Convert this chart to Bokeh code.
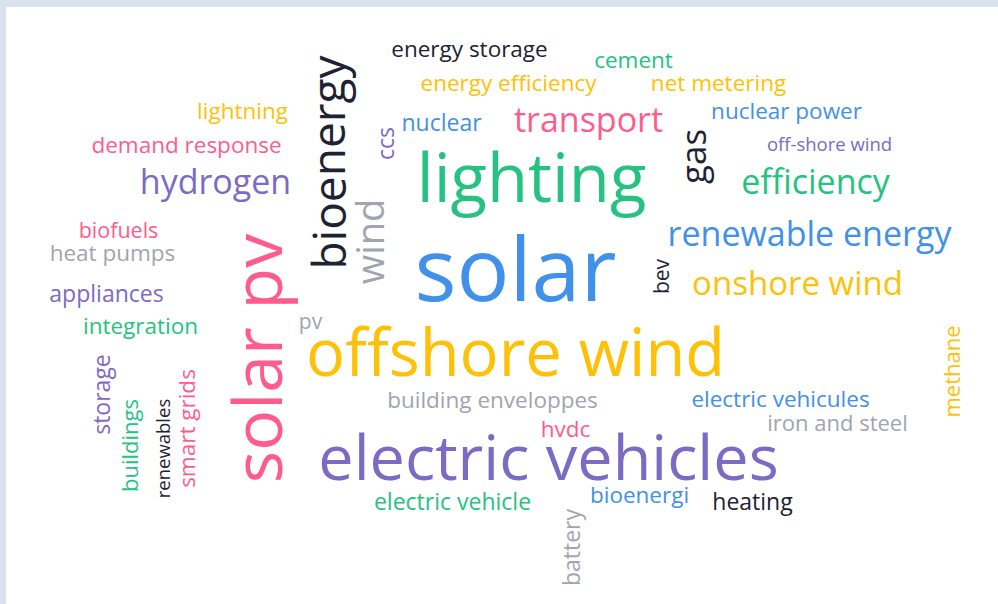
from bokeh.plotting import figure
from bokeh.models import ColumnDataSource, Range1d
from bokeh.embed import file_html
from bokeh.resources import INLINE
from bokeh.core.properties import value
import math

# ---- data: words, weights (font px) and colour groups ----
words = ["energy storage", "cement", "energy efficiency", "net metering", "lightning",
         "nuclear power", "nuclear", "transport", "demand response", "off-shore wind",
         "ccs", "gas", "lighting", "hydrogen", "efficiency", "bioenergy", "wind",
         "biofuels", "heat pumps", "renewable energy", "solar", "bev", "onshore wind",
         "appliances", "solar pv", "integration", "pv", "offshore wind", "methane",
         "storage", "buildings", "renewables", "smart grids", "building enveloppes",
         "electric vehicules", "iron and steel", "hvdc", "electric vehicles",
         "electric vehicle", "bioenergi", "heating", "battery"]
weights = [22.5, 22.5, 22.5, 22.5, 22.5,
           22.5, 23, 34, 22.5, 18.5,
           23, 35, 67, 34, 34, 46, 38,
           21.5, 22.5, 34, 88, 21, 33,
           23, 68, 22.5, 21, 65, 22,
           23, 22, 18.5, 22.5, 22.5,
           22.5, 22, 22.5, 63,
           23, 22.5, 23, 23]
groups = ["dark", "green", "yellow", "yellow", "yellow",
          "blue", "blue", "pink", "pink", "purple",
          "purple", "dark", "green", "purple", "green", "dark", "gray",
          "pink", "gray", "blue", "blue", "dark", "yellow",
          "purple", "pink", "green", "gray", "yellow", "yellow",
          "purple", "green", "dark", "pink", "gray",
          "blue", "gray", "pink", "purple",
          "green", "blue", "dark", "gray"]
vertical = ["ccs", "gas", "bioenergy", "wind", "bev", "solar pv", "methane",
            "storage", "buildings", "renewables", "smart grids", "battery"]

# ---- layout (page pixel centres of each word) ----
layout = {
    "energy storage": (469, 48), "cement": (633, 59), "energy efficiency": (508, 82),
    "net metering": (718, 82), "lightning": (242, 110), "nuclear power": (786, 110),
    "nuclear": (441, 121), "transport": (588, 118), "demand response": (186, 144),
    "off-shore wind": (829, 143), "ccs": (384, 143), "gas": (692, 156),
    "lighting": (531, 175), "hydrogen": (215, 180), "efficiency": (815, 180),
    "bioenergy": (327, 162), "wind": (368, 241), "biofuels": (118, 229),
    "heat pumps": (112, 252), "renewable energy": (809, 232), "solar": (515, 266),
    "bev": (660, 276), "onshore wind": (797, 282), "appliances": (106, 292),
    "solar pv": (255, 358), "integration": (140, 325), "pv": (310, 320),
    "offshore wind": (515, 350), "methane": (950, 371), "storage": (100, 394),
    "buildings": (128, 445), "renewables": (162, 448), "smart grids": (186, 428),
    "building enveloppes": (492, 399), "electric vehicules": (780, 398),
    "iron and steel": (837, 421), "hvdc": (565, 428), "electric vehicles": (548, 455),
    "electric vehicle": (452, 500), "bioenergi": (639, 494), "heating": (752, 500),
    "battery": (570, 547),
}
palette = {"green": "#26c281", "blue": "#4191ea", "yellow": "#ffc107",
           "purple": "#7b6bc4", "pink": "#ff5c8d", "dark": "#1d2333", "gray": "#a0a5b1"}

OX, OY = 6, 7
TW, TH = 990, 596          # figure size
FW, FH = TW - OX, TH - OY  # plotting frame size

xs, ys, sizes, angles, colors = [], [], [], [], []
for w, s, g in zip(words, weights, groups):
    px, py = layout[w]
    xs.append(px - OX)
    ys.append(FH - (py - OY))
    sizes.append(f"{s}px")
    angles.append(math.pi / 2 if w in vertical else 0.0)
    colors.append(palette[g])

src = ColumnDataSource(dict(x=xs, y=ys, text=words, size=sizes, angle=angles, color=colors))

p = figure(width=TW, height=TH, output_backend="svg", toolbar_location=None,
           x_range=Range1d(0, FW), y_range=Range1d(0, FH),
           min_border_left=OX, min_border_top=OY, min_border_right=0, min_border_bottom=0,
           background_fill_color=None, border_fill_color=None)
p.axis.visible = False
p.grid.visible = False
p.outline_line_color = None

p.text(x="x", y="y", text="text", source=src, text_font=value("Open Sans"),
       text_font_size="size", angle="angle", text_color="color",
       text_align="center", text_baseline="middle", text_font_style="normal")

html = file_html(p, INLINE)
css = ("<style>html{background:"
       f"linear-gradient(#d8e3ed,#d8e3ed) left top/100% {OY}px no-repeat,"
       f"linear-gradient(#d8e3ed,#d8e3ed) left top/{OX}px 100% no-repeat,#ffffff;}}"
       "html,body{margin:0!important;padding:0!important;}"
       "body{background:transparent!important;}</style>")
html = html.replace("</head>", css + "</head>", 1)
open("out.html", "w").write(html)
